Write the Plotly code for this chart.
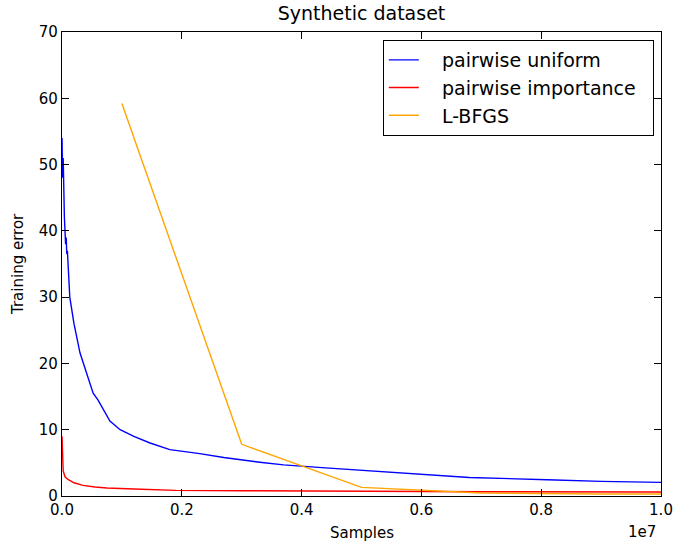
import plotly.graph_objects as go

# x values in units of 1e7 samples
uniform_x = [0.0, 0.001, 0.002, 0.003, 0.004, 0.006, 0.007, 0.008, 0.009, 0.013, 0.02,
             0.03, 0.041, 0.052, 0.06, 0.072, 0.08, 0.097, 0.12, 0.147, 0.18, 0.23,
             0.27, 0.33, 0.37, 0.44, 0.55, 0.62, 0.68, 0.81, 0.9, 1.0]
uniform_y = [54.0, 48.0, 51.0, 45.0, 42.0, 38.0, 39.0, 36.5, 37.0, 30.0, 26.0,
             21.6, 18.5, 15.5, 14.5, 12.5, 11.3, 10.0, 9.0, 8.0, 7.0, 6.4,
             5.8, 5.1, 4.7, 4.25, 3.6, 3.2, 2.8, 2.45, 2.2, 2.05]

importance_x = [0.0, 0.001, 0.002, 0.005, 0.01, 0.02, 0.035, 0.055, 0.075, 0.12,
                0.19, 0.3, 0.5, 0.7, 1.0]
importance_y = [9.0, 5.0, 3.8, 2.9, 2.5, 2.0, 1.6, 1.35, 1.2, 1.05,
                0.85, 0.8, 0.7, 0.65, 0.6]

lbfgs_x = [0.1, 0.3, 0.5, 0.7, 0.9, 1.0]
lbfgs_y = [59.2, 7.8, 1.3, 0.45, 0.3, 0.3]

x_ticks = [0.0, 0.2, 0.4, 0.6, 0.8, 1.0]
x_ticklabels = ["0.0", "0.2", "0.4", "0.6", "0.8", "1.0"]
y_ticks = [0, 10, 20, 30, 40, 50, 60, 70]

series_names = ["pairwise uniform", "pairwise importance", "L-BFGS"]

FONT = "DejaVu Sans"
PAD_L = "\u00a0\u00a0\u00a0"
PAD_R = "\u00a0\u00a0"

fig = go.Figure()
fig.add_trace(go.Scatter(x=uniform_x, y=uniform_y, mode="lines", name=PAD_L + series_names[0] + PAD_R,
                         line=dict(color="#0000ff", width=1.4)))
fig.add_trace(go.Scatter(x=importance_x, y=importance_y, mode="lines", name=PAD_L + series_names[1] + PAD_R,
                         line=dict(color="#ff0000", width=1.4)))
fig.add_trace(go.Scatter(x=lbfgs_x, y=lbfgs_y, mode="lines", name=PAD_L + series_names[2] + PAD_R,
                         line=dict(color="#ffa500", width=1.4)))

axis_common = dict(showline=True, linecolor="black", linewidth=1.2, mirror="ticks",
                   ticks="inside", ticklen=7, tickcolor="black", tickwidth=1,
                   showgrid=False, zeroline=False, automargin=False,
                   tickfont=dict(family=FONT, size=15, color="black"))

fig.update_layout(
    width=675, height=542,
    margin=dict(l=62, r=14, t=32, b=46, autoexpand=False),
    paper_bgcolor="white", plot_bgcolor="white",
    font=dict(family=FONT, color="black"),
    title=dict(text="Synthetic dataset", x=(62 + 661) / 2 / 675, xanchor="center",
               y=1 - 13 / 542, yanchor="middle", yref="container",
               font=dict(family=FONT, size=19, color="black")),
    xaxis=dict(range=[0, 1], tickvals=x_ticks, ticktext=x_ticklabels, **axis_common),
    yaxis=dict(range=[0, 70], tickvals=y_ticks, **axis_common),
    legend=dict(x=0.988, y=(496 - 40) / 464, xanchor="right", yanchor="top",
                bgcolor="white", bordercolor="black", borderwidth=1,
                font=dict(family=FONT, size=19, color="black"),
                tracegroupgap=0),
    showlegend=True,
)

fig.add_annotation(text="Training error", xref="paper", yref="paper", x=0, y=0.5,
                   xanchor="center", yanchor="middle", xshift=-44, textangle=-90,
                   showarrow=False, font=dict(family=FONT, size=15, color="black"))
fig.add_annotation(text="Samples", xref="paper", yref="paper", x=0.5, y=0,
                   xanchor="center", yanchor="middle", yshift=-37,
                   showarrow=False, font=dict(family=FONT, size=15, color="black"))
fig.add_annotation(text="1e7", xref="paper", yref="paper", x=1, y=0,
                   xanchor="right", yanchor="middle", yshift=-36, xshift=-3,
                   showarrow=False, font=dict(family=FONT, size=15, color="black"))

fig.write_html("out.html")
